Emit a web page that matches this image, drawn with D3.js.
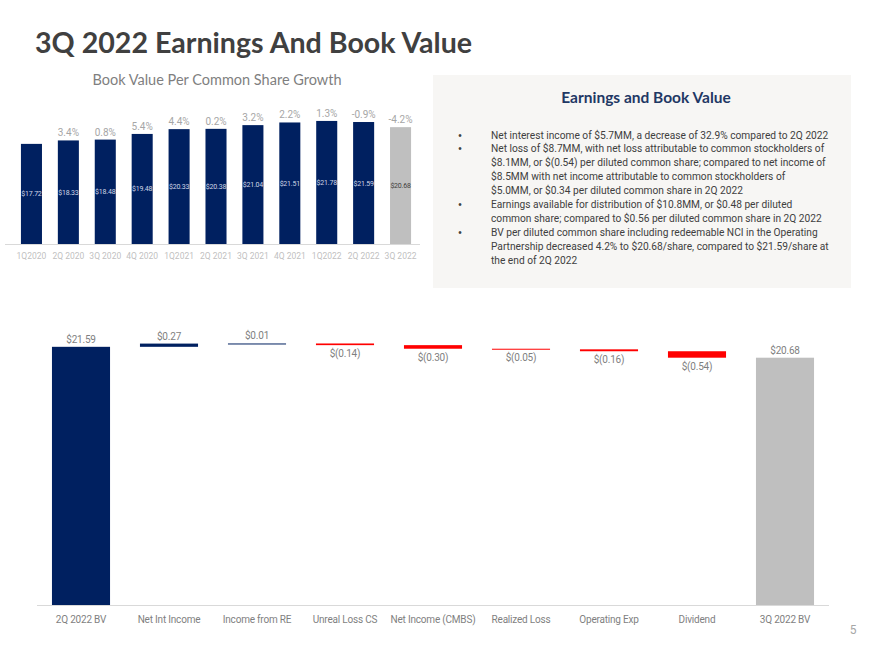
<!DOCTYPE html>
<html>
<head>
<meta charset="utf-8">
<script src="https://cdn.jsdelivr.net/npm/d3@7"></script>
<style>
  html, body { margin: 0; padding: 0; background: #ffffff; }
  svg { display: block; }
</style>
</head>
<body>
<svg id="chart" width="880" height="660"></svg>
<script>
// ---------- DATA ----------
const bvQuarters = ["1Q2020","2Q 2020","3Q 2020","4Q 2020","1Q2021","2Q 2021","3Q 2021","4Q 2021","1Q2022","2Q 2022","3Q 2022"];
const bvValues = [17.72, 18.33, 18.48, 19.48, 20.33, 20.38, 21.04, 21.51, 21.78, 21.59, 20.68];
const bvGrowth = [null, 3.4, 0.8, 5.4, 4.4, 0.2, 3.2, 2.2, 1.3, -0.9, -4.2];

const wfCategories = ["2Q 2022 BV","Net Int Income","Income from RE","Unreal Loss CS","Net Income (CMBS)","Realized Loss","Operating Exp","Dividend","3Q 2022 BV"];
const wfValues = [21.59, 0.27, 0.01, -0.14, -0.30, -0.05, -0.16, -0.54, 20.68];
const wfKinds = ["start","delta","delta","delta","delta","delta","delta","delta","end"];

const bulletLines = [
  {bullet: true,  text: "Net interest income of $5.7MM, a decrease of 32.9% compared to 2Q 2022"},
  {bullet: true,  text: "Net loss of $8.7MM, with net loss attributable to common stockholders of"},
  {bullet: false, text: "$8.1MM, or $(0.54) per diluted common share; compared to net income of"},
  {bullet: false, text: "$8.5MM with net income attributable to common stockholders of"},
  {bullet: false, text: "$5.0MM, or $0.34 per diluted common share in 2Q 2022"},
  {bullet: true,  text: "Earnings available for distribution of $10.8MM, or $0.48 per diluted"},
  {bullet: false, text: "common share; compared to $0.56 per diluted common share in 2Q 2022"},
  {bullet: true,  text: "BV per diluted common share including redeemable NCI in the Operating"},
  {bullet: false, text: "Partnership decreased 4.2% to $20.68/share, compared to $21.59/share at"},
  {bullet: false, text: "the end of 2Q 2022"}
];

// ---------- STYLE ----------
const NAVY = "#002060", RED = "#ff0000", GREY = "#bfbfbf";
const NARROW = "Roboto, 'Liberation Sans', sans-serif";

const svg = d3.select("#chart");

// Main title
svg.append("text")
  .attr("x", 35).attr("y", 53)
  .attr("font-family", "Lato, 'Open Sans', sans-serif")
  .attr("font-weight", "bold")
  .attr("font-size", 28.6)
  .attr("fill", "#404040")
  .text("3Q 2022 Earnings And Book Value");

// ---------- TOP-LEFT BAR CHART ----------
const tg = svg.append("g");
tg.append("text")
  .attr("x", 217).attr("y", 85)
  .attr("text-anchor", "middle")
  .attr("font-family", "Lato, sans-serif")
  .attr("font-size", 14.5)
  .attr("fill", "#7f7f7f")
  .text("Book Value Per Common Share Growth");

const tx = d3.scaleBand().domain(bvQuarters).range([13, 419]).paddingInner(0.43).paddingOuter(0.215);
const ty = d3.scaleLinear().domain([0, 24]).range([244, 108.4]);

tg.append("line")
  .attr("x1", 5).attr("x2", 420)
  .attr("y1", ty(0) + 0.5).attr("y2", ty(0) + 0.5)
  .attr("stroke", "#d9d9d9").attr("stroke-width", 1);

const last = bvQuarters.length - 1;
tg.selectAll("rect.bv").data(bvValues).join("rect")
  .attr("class", "bv")
  .attr("x", (d, i) => tx(bvQuarters[i]))
  .attr("width", tx.bandwidth())
  .attr("y", d => ty(d))
  .attr("height", d => ty(0) - ty(d))
  .attr("fill", (d, i) => i === last ? GREY : NAVY);

tg.selectAll("text.bvlab").data(bvValues).join("text")
  .attr("class", "bvlab")
  .attr("x", (d, i) => tx(bvQuarters[i]) + tx.bandwidth() / 2)
  .attr("y", d => (ty(d) + ty(0)) / 2 + 2.5)
  .attr("text-anchor", "middle")
  .attr("font-family", NARROW)
  .attr("font-size", 7)
  .attr("letter-spacing", -0.2)
  .attr("fill", (d, i) => i === last ? "#404040" : "#d0d6e6")
  .text(d => "$" + d.toFixed(2));

tg.selectAll("text.gr").data(bvGrowth).join("text")
  .attr("class", "gr")
  .attr("x", (d, i) => tx(bvQuarters[i]) + tx.bandwidth() / 2)
  .attr("y", (d, i) => ty(bvValues[i]) - 4)
  .attr("text-anchor", "middle")
  .attr("font-family", NARROW)
  .attr("font-size", 10)
  .attr("fill", "#a6a6a6")
  .text(d => d === null ? "" : d.toFixed(1) + "%");

const txAxis = tg.append("g").attr("transform", `translate(0,${ty(0)})`)
  .call(d3.axisBottom(tx).tickSize(0).tickPadding(9));
txAxis.select(".domain").remove();
txAxis.selectAll("text")
  .attr("font-family", NARROW)
  .attr("font-size", 8.5)
  .attr("fill", "#bfbfbf");

// ---------- RIGHT TEXT PANEL ----------
svg.append("rect")
  .attr("x", 433).attr("y", 75).attr("width", 418).attr("height", 213)
  .attr("fill", "#f7f6f4");
svg.append("text")
  .attr("x", 646).attr("y", 103)
  .attr("text-anchor", "middle")
  .attr("font-family", "Lato, sans-serif")
  .attr("font-weight", "bold")
  .attr("font-size", 15.5)
  .attr("fill", "#1f3864")
  .text("Earnings and Book Value");

const tp = svg.append("g");
tp.selectAll("text.line").data(bulletLines).join("text")
  .attr("class", "line")
  .attr("x", 491)
  .attr("y", (d, i) => 138.5 + i * 13.9)
  .attr("font-family", NARROW)
  .attr("font-size", 10.2)
  .attr("fill", "#404040")
  .text(d => d.text);
tp.selectAll("text.bul").data(bulletLines.filter(d => d.bullet)).join("text")
  .attr("class", "bul")
  .attr("x", 460)
  .attr("y", d => 138.5 + bulletLines.indexOf(d) * 13.9)
  .attr("text-anchor", "middle")
  .attr("font-family", "sans-serif")
  .attr("font-size", 10)
  .attr("fill", "#404040")
  .text("•");

// ---------- WATERFALL ----------
const wg = svg.append("g");
const wx = d3.scaleBand().domain(wfCategories).range([37, 829]).paddingInner(0.34).paddingOuter(0.17);
const wy = d3.scaleLinear().domain([0, 24]).range([605, 318]);

let running = 0;
const segs = wfValues.map((v, i) => {
  let lo, hi;
  if (wfKinds[i] === "delta") {
    const start = running;
    running += v;
    lo = Math.min(start, running); hi = Math.max(start, running);
  } else {
    lo = 0; hi = v; running = v;
  }
  return {cat: wfCategories[i], v, kind: wfKinds[i], lo, hi};
});

wg.append("line")
  .attr("x1", 37).attr("x2", 829)
  .attr("y1", wy(0) + 0.5).attr("y2", wy(0) + 0.5)
  .attr("stroke", "#d9d9d9").attr("stroke-width", 1);

wg.selectAll("rect.wf").data(segs).join("rect")
  .attr("class", "wf")
  .attr("x", d => wx(d.cat))
  .attr("width", wx.bandwidth())
  .attr("y", d => wy(d.hi))
  .attr("height", d => Math.max(1, wy(d.lo) - wy(d.hi)))
  .attr("fill", d => d.kind === "start" ? NAVY : d.kind === "end" ? GREY : (d.v >= 0 ? NAVY : RED));

const fmt = v => v >= 0 ? "$" + v.toFixed(2) : "$(" + Math.abs(v).toFixed(2) + ")";
wg.selectAll("text.wflab").data(segs).join("text")
  .attr("class", "wflab")
  .attr("x", d => wx(d.cat) + wx.bandwidth() / 2)
  .attr("y", d => d.v >= 0 ? wy(d.hi) - 4 : wy(d.lo) + 12)
  .attr("text-anchor", "middle")
  .attr("font-family", NARROW)
  .attr("font-size", 10)
  .attr("letter-spacing", -0.2)
  .attr("fill", "#7f7f7f")
  .text(d => fmt(d.v));

const wxAxis = wg.append("g").attr("transform", `translate(0,${wy(0)})`)
  .call(d3.axisBottom(wx).tickSize(0).tickPadding(11));
wxAxis.select(".domain").remove();
wxAxis.selectAll("text")
  .attr("font-family", NARROW)
  .attr("font-size", 10)
  .attr("letter-spacing", -0.2)
  .attr("fill", "#7f7f7f");

// page number
svg.append("text")
  .attr("x", 853).attr("y", 634)
  .attr("text-anchor", "middle")
  .attr("font-family", NARROW)
  .attr("font-size", 12)
  .attr("fill", "#a6a6a6")
  .text("5");
</script>
</body>
</html>
